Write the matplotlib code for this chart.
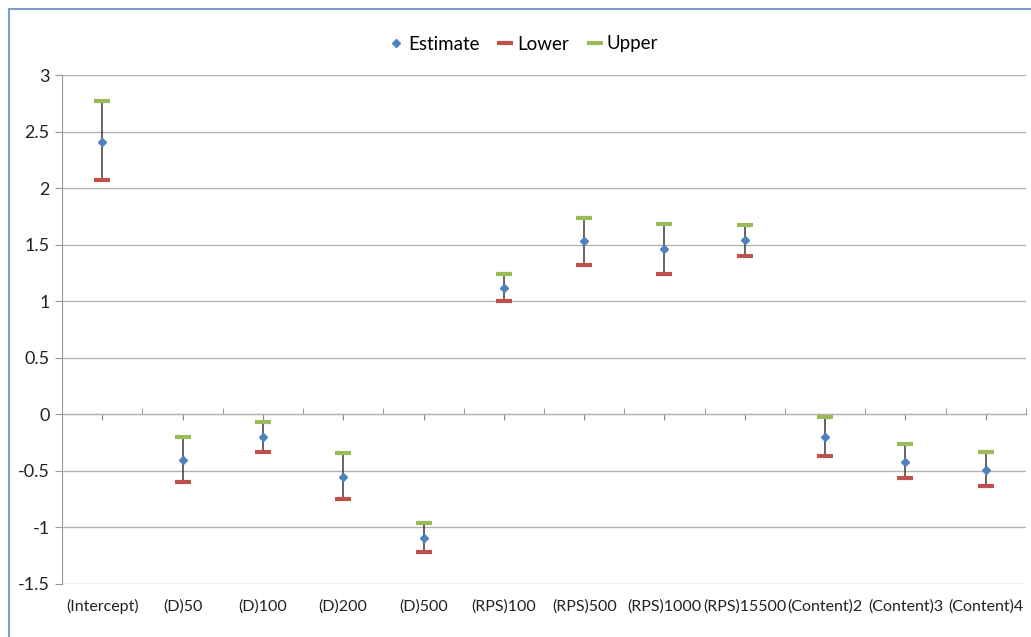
import matplotlib
matplotlib.use("Agg")
import matplotlib.pyplot as plt
from matplotlib.patches import Rectangle

plt.rcParams['font.family'] = ['Lato', 'DejaVu Sans']

categories = ["(Intercept)", "(D)50", "(D)100", "(D)200", "(D)500", "(RPS)100",
              "(RPS)500", "(RPS)1000", "(RPS)15500", "(Content)2", "(Content)3", "(Content)4"]
estimate = [2.41, -0.40, -0.20, -0.55, -1.09, 1.12, 1.53, 1.46, 1.54, -0.20, -0.42, -0.49]
lower = [2.07, -0.60, -0.33, -0.75, -1.22, 1.00, 1.32, 1.24, 1.40, -0.37, -0.56, -0.63]
upper = [2.77, -0.20, -0.07, -0.34, -0.96, 1.24, 1.74, 1.68, 1.67, -0.02, -0.26, -0.33]
yticks = [-1.5, -1, -0.5, 0, 0.5, 1, 1.5, 2, 2.5, 3]
ytick_labels = ["-1.5", "-1", "-0.5", "0", "0.5", "1", "1.5", "2", "2.5", "3"]

blue = "#4F81BD"
red = "#C0504D"
green = "#9BBB59"

fig = plt.figure(figsize=(10.31, 6.37), dpi=100)
fig.patches.append(Rectangle((9/1031, -0.1), 1.2, 1 - 9/637 + 0.1, transform=fig.transFigure,
                             fill=False, edgecolor="#7BA0CD", lw=1.5))
ax = fig.add_axes([62/1031, 1 - 584/637, (1026 - 62)/1031, (584 - 75)/637])

x = list(range(len(categories)))
ax.vlines(x, lower, upper, color="#3a3a3a", lw=1.1, zorder=3)
ax.plot(x, lower, ls="none", marker="_", ms=12, mew=3, color=red, label="Lower", zorder=4)
ax.plot(x, upper, ls="none", marker="_", ms=12, mew=3, color=green, label="Upper", zorder=4)
ax.plot(x, estimate, ls="none", marker="D", ms=4.5, color=blue, label="Estimate", zorder=5)

ax.set_xlim(-0.5, len(categories) - 0.5)
ax.set_ylim(-1.5, 3)
ax.set_yticks(yticks)
ax.set_yticklabels(ytick_labels, fontsize=13, color="#222222")
ax.yaxis.grid(True, color="#B3B3B3", lw=1)
ax.set_axisbelow(True)
ax.tick_params(axis="y", length=5, color="#999999", pad=4)

ax.set_xticks(x)
ax.set_xticklabels(categories, fontsize=11.5, color="#222222")
ax.tick_params(axis="x", length=0, pad=11)

for s in ["top", "right", "bottom"]:
    ax.spines[s].set_visible(False)
ax.spines["left"].set_color("#999999")

sec = ax.secondary_xaxis(1.5 / 4.5)
sec.set_xticks(x)
sec.set_xticklabels([])
sec.set_xticks([i + 0.5 for i in range(-1, len(categories))], minor=True)
sec.tick_params(which="major", direction="out", length=4, color="#888888")
sec.tick_params(which="minor", direction="in", length=4, color="#888888")
sec.spines["bottom"].set_color("#868686")

h, l = ax.get_legend_handles_labels()
order = [2, 0, 1]
fig.legend([h[i] for i in order], [l[i] for i in order], loc="center",
           bbox_to_anchor=(524/1031, 1 - 44/637), ncol=3, frameon=False,
           fontsize=13.5, handlelength=0.7, handletextpad=0.3, columnspacing=1.0)

fig.savefig("out.png", dpi=100)
